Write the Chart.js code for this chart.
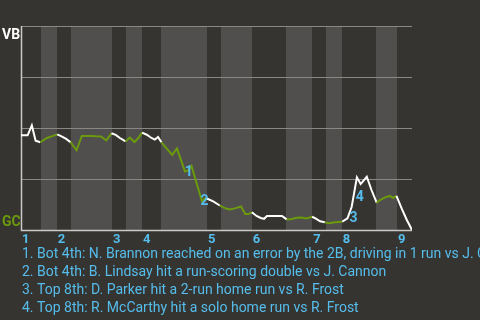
<!DOCTYPE html>
<html><head><meta charset="utf-8">
<script src="https://cdn.jsdelivr.net/npm/chart.js@4/dist/chart.umd.min.js"></script>
<style>html,body{margin:0;padding:0;background:#363430;overflow:hidden}#wrap{width:480px;height:320px;position:relative}</style>
</head><body><div id="wrap"><canvas id="c" width="480" height="320"></canvas></div>
<script>
// play number (x) and VB win probability in percent (y)
const playIndex = [0,1.4,2.3,3.1,4.1,5.5,6.5,7.7,8.6,9.5,10.5,11.8,12.9,13.9,14.9,15.9,17.0,18.1,19.2,20.1,
  21.0,22.2,23.1,24.1,24.9,25.7,26.7,27.7,28.4,29.1,29.8,30.9,32.1,33.1,34.8,35.5,36.2,38.4,39.2,40.8,
  42.2,43.5,44.4,45.4,46.7,47.6,48.3,49.0,50.0,50.9,51.6,52.2,53.3,54.3,55.4,56.4,57.5,58.5,59.6,60.5,
  61.8,62.6,63.5,64.5,65.3,66.7,68.2,69.3,70.2,71.3,72.1,73.4,74.4,75.5,76.2,77.3,78.3,79.0,79.7,80.8,81.9,83.0];
const vbWinPct = [46.4,46.4,51.3,43.8,43.0,45.1,45.9,46.9,45.9,44.8,43.1,39.1,46.1,46.1,46.1,45.9,45.8,43.9,47.4,46.6,
  45.1,43.4,45.3,43.1,45.1,47.7,46.7,45.1,44.3,45.6,43.0,40.0,36.8,40.0,28.7,29.2,31.4,14.2,15.7,14.0,
  12.0,10.5,10.1,10.6,11.5,7.8,7.8,8.7,6.9,5.9,5.5,6.9,6.9,6.9,6.9,5.2,5.4,6.0,6.1,5.7,
  6.5,5.6,4.3,3.8,3.3,3.8,4.1,5.7,11.4,25.8,22.5,26.1,19.6,13.4,14.7,16.0,16.7,15.7,16.7,10.6,4.9,0.0];
// start of each half inning (top 1st, bot 1st, top 2nd, ...)
const halfInningStart = [0,4.25,7.6,10.6,19.3,22.3,25.7,29.7,39.5,42.4,49.0,56.3,61.8,64.7,68.1,75.4,79.8];
const gameEnd = 83;
const inningLabels = ['1','2','3','4','5','6','7','8','9'];
const gridValues = [0,25,50,75,100];
const topTeam = 'VB';
const bottomTeam = 'GC';
const eventPointIndex = [35,37,67,69];
const eventLabels = ['1','2','3','4'];
const eventNotes = [
  '1. Bot 4th: N. Brannon reached on an error by the 2B, driving in 1 run vs J. Cannon',
  '2. Bot 4th: B. Lindsay hit a run-scoring double vs J. Cannon',
  '3. Top 8th: D. Parker hit a 2-run home run vs R. Frost',
  '4. Top 8th: R. McCarthy hit a solo home run vs R. Frost'
];

const BG = '#363430', BAND = '#504f4d', GRID = '#8a8885', AXIS = '#c9c9c9';
const WHITE = '#ffffff', GREEN = '#6b9a0c', BLUE = '#55bdec';
const FONT = 'Roboto, "Open Sans", sans-serif';
const labelOffsets = [[0.5,2.2],[2.5,0],[6,0],[3,20.5]];

function halfIndexAt(x){
  let k = 0;
  for (let i=0;i<halfInningStart.length;i++){ if (x >= halfInningStart[i]) k = i; }
  return k;
}

const decor = {
  id: 'decor',
  beforeDatasetsDraw(chart){
    const {ctx, chartArea:a, scales:{x,y}} = chart;
    ctx.save();
    for (let i=0;i<halfInningStart.length;i++){
      if (i%2===1){
        const x0 = x.getPixelForValue(halfInningStart[i]);
        const x1 = x.getPixelForValue(i+1<halfInningStart.length ? halfInningStart[i+1] : gameEnd);
        ctx.fillStyle = BAND;
        ctx.fillRect(Math.round(x0), a.top, Math.round(x1)-Math.round(x0), a.bottom-a.top);
      }
    }
    ctx.lineWidth = 1;
    gridValues.forEach(v=>{
      if (v===0) return;
      const py = Math.round(y.getPixelForValue(v))+0.5;
      ctx.strokeStyle = GRID;
      ctx.beginPath(); ctx.moveTo(a.left, py); ctx.lineTo(a.right, py); ctx.stroke();
    });
    ctx.strokeStyle = AXIS;
    ctx.lineWidth = 1.5;
    ctx.beginPath(); ctx.moveTo(a.left+0.5, a.top); ctx.lineTo(a.left+0.5, a.bottom+0.5); ctx.lineTo(a.right, a.bottom+0.5); ctx.stroke();
    ctx.restore();
  },
  afterDatasetsDraw(chart){
    const {ctx, chartArea:a, scales:{x,y}} = chart;
    ctx.save();
    // team labels
    ctx.font = 'bold 14px ' + FONT;
    ctx.textBaseline = 'alphabetic';
    ctx.textAlign = 'left';
    ctx.fillStyle = WHITE;
    ctx.fillText(topTeam, 2, y.getPixelForValue(100)+12.5);
    ctx.fillStyle = GREEN;
    ctx.fillText(bottomTeam, 2, y.getPixelForValue(0)-4);
    // inning labels
    ctx.fillStyle = BLUE;
    ctx.font = 'bold 13px ' + FONT;
    inningLabels.forEach((t,i)=>{
      ctx.fillText(t, x.getPixelForValue(halfInningStart[i*2])+1, a.bottom+12.5);
    });
    // event markers
    ctx.font = 'bold 14px ' + FONT;
    ctx.textAlign = 'center';
    ctx.textBaseline = 'middle';
    const meta = chart.getDatasetMeta(0);
    eventPointIndex.forEach((pi,i)=>{
      const pt = meta.data[pi];
      ctx.fillText(eventLabels[i], pt.x + labelOffsets[i][0], pt.y + labelOffsets[i][1]);
    });
    // notes
    ctx.textAlign = 'left';
    ctx.textBaseline = 'alphabetic';
    ctx.font = '14px ' + FONT;
    eventNotes.forEach((t,i)=>{
      ctx.fillText(t, 22, a.bottom + 28 + i*18);
    });
    ctx.restore();
  }
};

new Chart(document.getElementById('c'), {
  type: 'line',
  data: {
    datasets: [{
      data: playIndex.map((px,i)=>({x:px, y:vbWinPct[i]})),
      borderWidth: 2,
      pointRadius: 0,
      tension: 0,
      borderColor: WHITE,
      segment: {
        borderColor: ctx => {
          const mid = (ctx.p0.parsed.x + ctx.p1.parsed.x)/2;
          return halfIndexAt(mid)%2===0 ? WHITE : GREEN;
        }
      }
    }]
  },
  options: {
    responsive: false,
    devicePixelRatio: 1,
    animation: false,
    layout: { padding: { left: 21, right: 68, top: 26, bottom: 90 } },
    plugins: { legend: {display:false}, tooltip: {enabled:false} },
    scales: {
      x: { type: 'linear', min: 0, max: gameEnd, display: false },
      y: { type: 'linear', min: 0, max: 100, display: false }
    }
  },
  plugins: [decor]
});
</script></body></html>
